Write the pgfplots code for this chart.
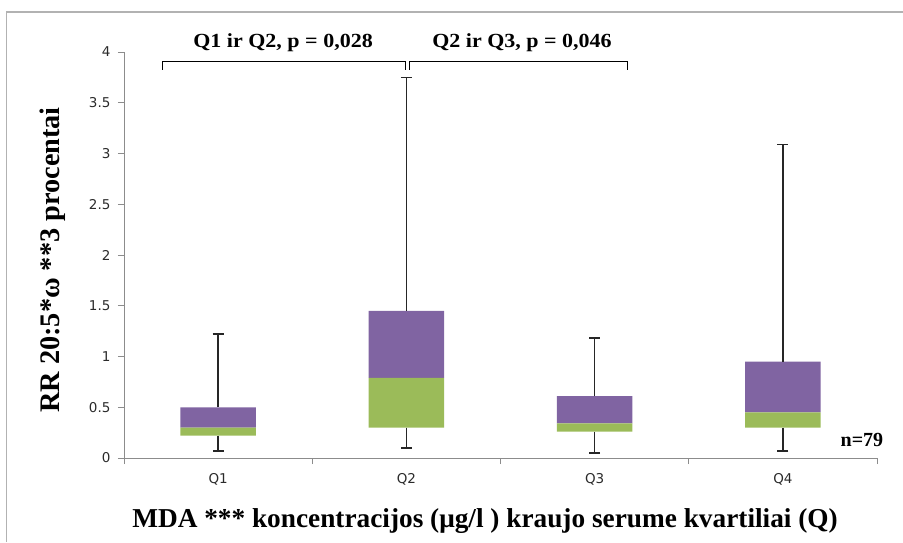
\documentclass[border=0pt]{standalone}
\usepackage{pgfplots}
\pgfplotsset{compat=1.18}
\usepackage{fontspec}
\setmainfont{Liberation Serif}
\newfontfamily\tickfont{DejaVu Sans}
\definecolor{boxpurple}{HTML}{8064A2}
\definecolor{boxgreen}{HTML}{9BBB59}
\definecolor{axgray}{HTML}{8C8C8C}
\definecolor{ticktext}{HTML}{2A2A2A}
\definecolor{whisk}{HTML}{262626}
\begin{document}
\begin{tikzpicture}[x=1pt,y=1pt]
\path[use as bounding box] (-124,-84) rectangle (779,458);
\draw[color=black!30, line width=1.3pt] (-117.5,-84) -- (-117.5,446) -- (779,446);
\begin{axis}[
  at={(0,0)}, anchor=south west, scale only axis,
  width=753pt, height=406pt,
  xmin=-0.5, xmax=3.5, ymin=0, ymax=4,
  clip=false,
  ybar stacked, bar width=0.4,
  axis x line*=bottom, axis y line*=left,
  axis line style={axgray, line width=0.8pt},
  tick align=outside, major tick length=6pt,
  ytick={0,0.5,...,4},
  y tick style={axgray, line width=0.8pt},
  xtick={0,1,2,3}, xticklabels={Q1,Q2,Q3,Q4},
  major x tick style={draw=none},
  extra x ticks={-0.5,0.5,1.5,2.5,3.5},
  extra x tick labels={},
  extra x tick style={major x tick style={draw=axgray, line width=0.8pt}},
  /pgf/number format/assume math mode=true,
  tick label style={font=\tickfont\fontsize{13.5}{15}\selectfont, text=ticktext},
  y tick label style={xshift=-4pt},
  x tick label style={yshift=-6pt},
  error bars/error bar style={draw=whisk, line width=1.5pt},
  error bars/error mark options={draw=whisk, rotate=90, mark size=5.5pt, line width=1.5pt},
]
% invisible base up to Q1, with lower whisker (min) below it
\addplot[fill=none, draw=none,
  error bars/.cd, y dir=minus, y explicit]
  coordinates {(0,0.22) +- (0,0.15) (1,0.30) +- (0,0.20) (2,0.26) +- (0,0.21) (3,0.30) +- (0,0.23)};
% lower part of box (Q1 to median)
\addplot[fill=boxgreen, draw=none]
  coordinates {(0,0.08) (1,0.49) (2,0.08) (3,0.15)};
% upper part of box (median to Q3), with upper whisker (max) above it
\addplot[fill=boxpurple, draw=none,
  error bars/.cd, y dir=plus, y explicit]
  coordinates {(0,0.20) +- (0,0.72) (1,0.66) +- (0,2.30) (2,0.27) +- (0,0.57) (3,0.50) +- (0,2.14)};
% significance brackets
\draw[black, line width=0.9pt] (axis cs:-0.298,3.823) -- (axis cs:-0.298,3.911) -- (axis cs:0.993,3.911) -- (axis cs:0.993,3.823);
\draw[black, line width=0.9pt] (axis cs:1.014,3.823) -- (axis cs:1.014,3.911) -- (axis cs:2.172,3.911) -- (axis cs:2.172,3.823);
\node[font=\bfseries\fontsize{20}{20}\selectfont] at (axis cs:0.345,4.09) {\scalebox{1.1}[1]{Q1 ir Q2, p = 0,028}};
\node[font=\bfseries\fontsize{20}{20}\selectfont] at (axis cs:1.614,4.09) {\scalebox{1.1}[1]{Q2 ir Q3, p = 0,046}};
\node[font=\bfseries\fontsize{20}{20}\selectfont] at (axis cs:3.42,0.18) {n=79};
\end{axis}
\node[font=\bfseries\fontsize{28.3}{28.3}\selectfont, rotate=90] at (-71,198) {RR 20:5*ω **3 procentai};
\node[font=\bfseries\fontsize{27.3}{27.3}\selectfont] at (361,-63) {MDA *** koncentracijos (μg/l ) kraujo serume kvartiliai (Q)};
\end{tikzpicture}
\end{document}
